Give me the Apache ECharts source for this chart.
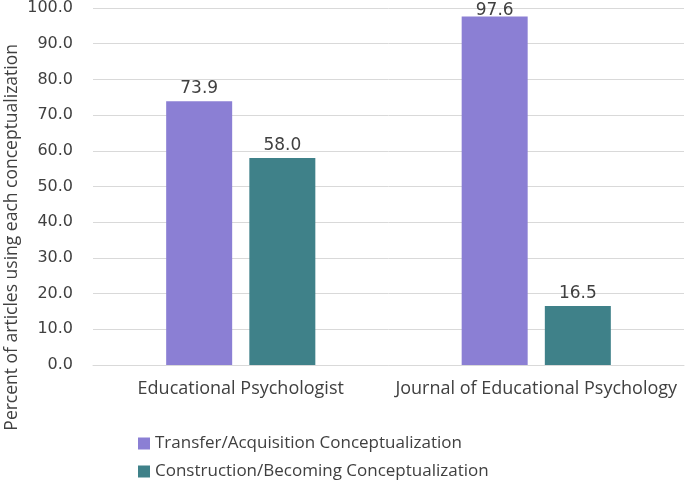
<!DOCTYPE html>
<html><head><meta charset="utf-8">
<script src="https://cdn.jsdelivr.net/npm/echarts@6/dist/echarts.min.js"></script>
<style>html,body{margin:0;padding:0;background:#fff}#c{width:685px;height:484px}</style>
</head><body><div id="c"></div>
<script>
const categories = ["Educational Psychologist", "Journal of Educational Psychology"];
const transferValues = [73.9, 97.6];
const constructionValues = [58.0, 16.5];
const seriesNames = ["Transfer/Acquisition Conceptualization", "Construction/Becoming Conceptualization"];
const yAxisTitle = "Percent of articles using each conceptualization";

const chart = echarts.init(document.getElementById('c'));
const font = "Open Sans";
const labelCfg = {show: true, position: 'top', distance: 4, color: '#404040', fontSize: 17, fontFamily: 'DejaVu Sans', formatter: p => Number(p.value).toFixed(1)};
const toData = arr => arr.map(v => v > 95 ? {value: v, label: {distance: 0, offset: [0, 3]}} : v);
const legendText = {fontFamily: font, fontSize: 17, color: '#404040'};
chart.setOption({
  animation: false,
  grid: {left: 93, right: 1, top: 7, bottom: 119, containLabel: false},
  legend: [
    {data: [seriesNames[0]], left: 133, top: 430, itemWidth: 12, itemHeight: 12, icon: 'rect', itemGap: 8, textStyle: legendText},
    {data: [seriesNames[1]], left: 133, top: 458, itemWidth: 12, itemHeight: 12, icon: 'rect', itemGap: 8, textStyle: legendText}
  ],
  graphic: [{
    type: 'text', left: 3, top: 44, rotation: Math.PI/2,
    style: {text: yAxisTitle, fontFamily: font, fontSize: 17.5, fill: '#404040'}
  }],
  xAxis: {
    type: 'category', data: categories,
    axisLine: {show: true, lineStyle: {color: '#d9d9d9'}},
    axisTick: {show: false},
    axisLabel: {color: '#404040', fontFamily: font, fontSize: 18, margin: 15, interval: 0}
  },
  yAxis: {
    type: 'value', min: 0, max: 100, interval: 10,
    axisLine: {show: false}, axisTick: {show: false},
    splitLine: {lineStyle: {color: '#d9d9d9'}},
    axisLabel: {color: '#404040', fontFamily: 'DejaVu Sans', fontSize: 16, margin: 20, formatter: v => v.toFixed(1)}
  },
  series: [
    {name: seriesNames[0], type: 'bar', data: toData(transferValues), barWidth: 66, barGap: '26%', itemStyle: {color: '#8B7FD4'}, label: labelCfg},
    {name: seriesNames[1], type: 'bar', data: toData(constructionValues), barWidth: 66, itemStyle: {color: '#3F8189'}, label: labelCfg}
  ]
});
</script></body></html>
